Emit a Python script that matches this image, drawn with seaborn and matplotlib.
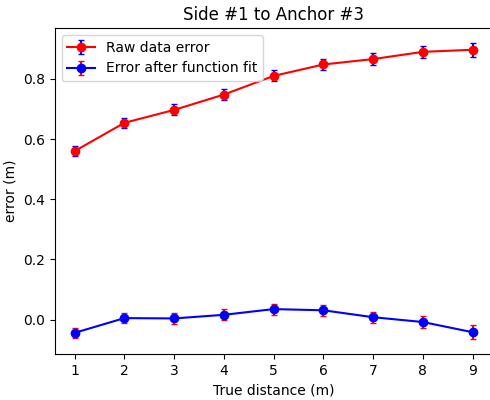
import numpy as np
import pandas as pd
import matplotlib
matplotlib.use("Agg")
import matplotlib.pyplot as plt
import seaborn as sns
from matplotlib.legend_handler import HandlerTuple

# data
distance = [1, 2, 3, 4, 5, 6, 7, 8, 9]
raw_error = [0.560, 0.654, 0.697, 0.748, 0.810, 0.848, 0.866, 0.890, 0.897]
raw_std = [0.017, 0.016, 0.018, 0.017, 0.018, 0.018, 0.019, 0.020, 0.023]
fit_error = [-0.044, 0.005, 0.004, 0.016, 0.035, 0.031, 0.008, -0.008, -0.042]
fit_std = [0.016, 0.017, 0.018, 0.018, 0.018, 0.019, 0.019, 0.021, 0.023]
labels = ["Raw data error", "Error after function fit"]

df = pd.DataFrame({"distance": distance, "raw": raw_error, "fit": fit_error})

fig = plt.figure(figsize=(4.9, 4), dpi=100)
ax = fig.add_axes([0.1116, 0.115, 0.8937, 0.815])

handles = []
# red line with blue bars, blue line with red bars
for col, err, color, ecolor in [("raw", raw_std, "red", "blue"), ("fit", fit_std, "blue", "red")]:
    sns.lineplot(data=df, x="distance", y=col, color=color, marker="o", markersize=6,
                 markeredgecolor=color, markeredgewidth=1, linewidth=1.5, ax=ax, zorder=2)
    line = ax.lines[-1]
    eb = ax.errorbar(df["distance"], df[col], yerr=err, fmt="none", ecolor=ecolor,
                     capsize=2, elinewidth=1.5, zorder=1.9)
    handles.append((eb, line))

ax.legend(handles, labels, loc="upper left", handler_map={tuple: HandlerTuple(ndivide=1)})

ax.set_title("Side #1 to Anchor #3")
ax.set_xlabel("True distance (m)")
ax.set_ylabel("error (m)")
ax.set_xticks(distance)

fig.savefig("out.png", dpi=100)
